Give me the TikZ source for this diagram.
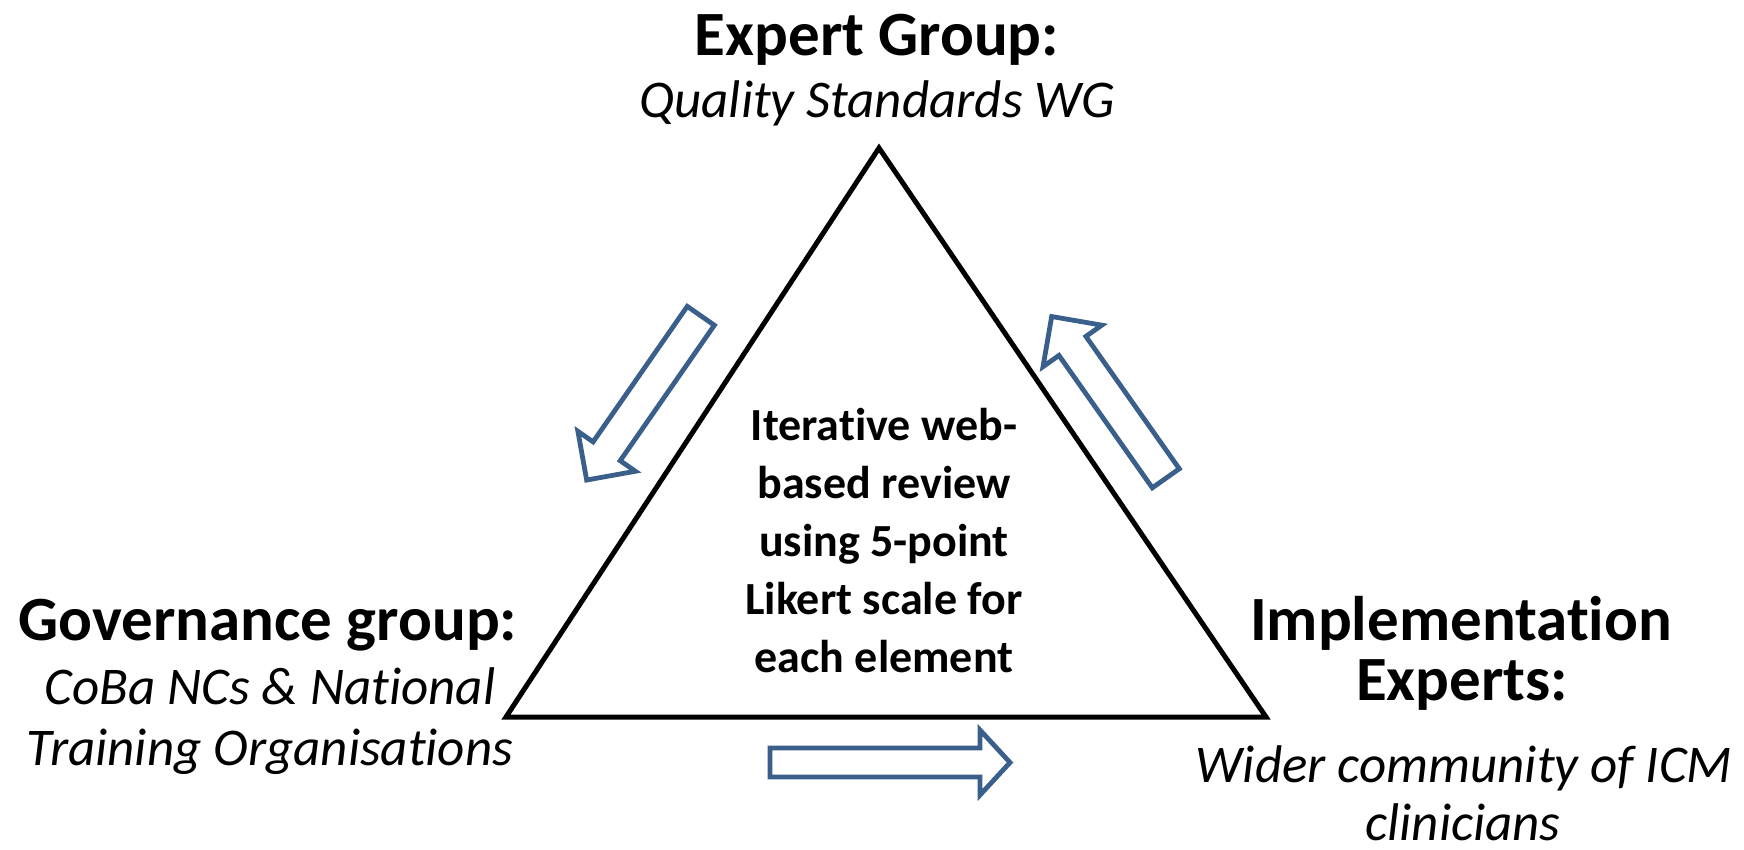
\documentclass[tikz,border=0pt]{standalone}
\usepackage{fontspec}
\setmainfont{Carlito}[Ligatures=CommonOff]
\usepackage{tikz}
\usetikzlibrary{positioning}

\definecolor{arrowblue}{HTML}{3A5F8B}

% hollow block arrow: tail point, angle, length, shaft half width, head half width, head length
\newcommand{\blockarrow}[6]{%
\draw[flow,shift={#1},rotate=#2](0,#4)--(#3-#6,#4)--(#3-#6,#5)--(#3,0)--(#3-#6,-#5)--(#3-#6,-#4)--(0,-#4)--cycle;}

\begin{document}
\begin{tikzpicture}[x=1pt,y=-1pt]
\tikzstyle{every node}=[inner sep=0pt,outer sep=0pt,anchor=base]
\tikzstyle{head}=[font=\fontsize{63}{70}\selectfont\bfseries]
\tikzstyle{sub}=[font=\fontsize{53}{60}\selectfont\itshape]
\tikzstyle{flow}=[draw=arrowblue,line width=4.8pt,line join=miter]
\useasboundingbox (0,0) rectangle (1744,850);

\coordinate (apex) at (879,148);
\coordinate (bl) at (506,717);
\coordinate (br) at (1266,717);
\draw[line width=5pt,line join=miter](apex)--(br)--(bl)--cycle;

\node[font=\fontsize{46}{58}\selectfont\bfseries,align=center,anchor=center] (review) at (884,541)
 {Iterative web-\\based review\\using 5-point\\Likert scale for\\each element};

% top corner
\node[head] (expert) at (877,56) {Expert Group:};
\node[sub] (quality) at (877,118) {Quality Standards WG};

% left corner
\node[head] (gov) at (268,640) {Governance group:};
\node[sub] (coba) at (270,704) {CoBa NCs \& National};
\node[sub] (training) at (270,765) {Training Organisations};

% right corner
\node[head] (impl) at (1461,640) {Implementation};
\node[head] (experts) at (1462,700) {Experts:};
\node[sub] (wider) at (1464,782) {Wider community of ICM};
\node[sub] (clin) at (1463,840) {clinicians};

\blockarrow{(700.8,315.8)}{235.2}{200}{16.5}{35}{35}
\blockarrow{(1165.8,478.3)}{125.2}{198}{16.5}{36}{36}
\blockarrow{(770,762.5)}{0}{240}{14.5}{32.5}{30}

\end{tikzpicture}
\end{document}
